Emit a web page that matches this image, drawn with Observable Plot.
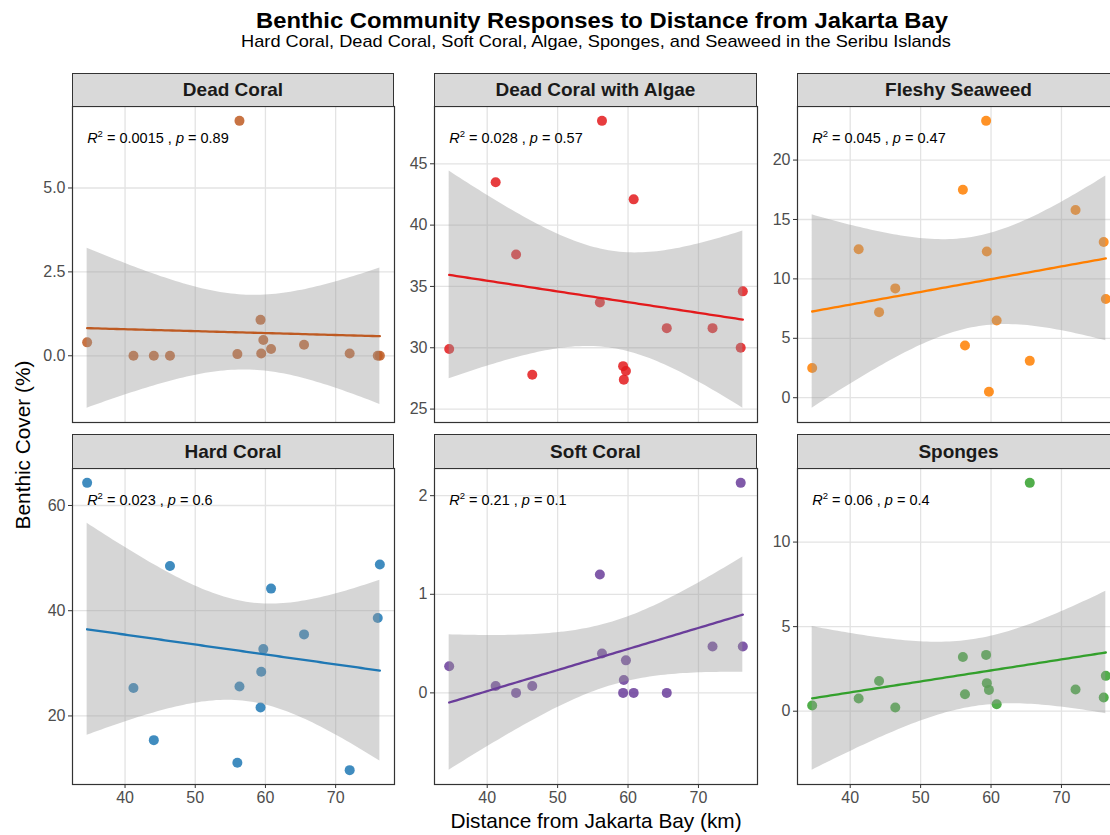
<!DOCTYPE html>
<html>
<head>
<meta charset="utf-8">
<script src="https://cdn.jsdelivr.net/npm/d3@7"></script>
<script src="https://cdn.jsdelivr.net/npm/@observablehq/plot@0.6"></script>
<style>
  body { margin: 0; background: #fff; font-family: "Liberation Sans", Arial, Helvetica, sans-serif; }
  #fig { position: relative; width: 1110px; height: 835px; overflow: hidden; background: #fff; }
  .abs { position: absolute; white-space: nowrap; line-height: 1; }
  .title { font-size: 22px; font-weight: bold; color: #000; text-align: center; transform: scaleX(1.08); transform-origin: 50% 50%; }
  .subtitle { font-size: 17px; color: #000; text-align: center; transform: scaleX(1.07); transform-origin: 50% 50%; }
  .strip { position: absolute; box-sizing: border-box; background: #D9D9D9; border: 1.2px solid #333;
           font-weight: bold; font-size: 19px; color: #1A1A1A; text-align: center; display: flex;
           align-items: center; justify-content: center; }
  .axtitle { font-size: 20.8px; color: #000; }
</style>
</head>
<body>
<div id="fig"></div>
<script>
// ---------------- data ----------------
const chartTitle = "Benthic Community Responses to Distance from Jakarta Bay";
const chartSubtitle = "Hard Coral, Dead Coral, Soft Coral, Algae, Sponges, and Seaweed in the Seribu Islands";
const xTitle = "Distance from Jakarta Bay (km)";
const yTitle = "Benthic Cover (%)";

const categories = ["Dead Coral", "Dead Coral with Algae", "Fleshy Seaweed", "Hard Coral", "Soft Coral", "Sponges"];
const distanceKm = [34.6, 41.2, 44.1, 46.4, 56.0, 56.3, 59.3, 59.4, 59.7, 60.8, 65.5, 72.0, 76.0, 76.3];

const deadCoral        = [0.40, 0.00, 0.00, 0.00, 0.05, 7.00, 1.07, 0.07, 0.47, 0.20, 0.33, 0.07, 0.00, 0.00];
const deadCoralAlgae   = [29.9, 43.5, 37.6, 27.8, 33.7, 48.5, 28.5, 27.4, 28.1, 42.1, 31.6, 31.6, 30.0, 34.6];
const fleshySeaweed    = [2.5, 12.5, 7.2, 9.2, 17.5, 4.4, 23.3, 12.3, 0.5, 6.5, 3.1, 15.8, 13.1, 8.3];
const hardCoral        = [64.3, 25.3, 15.4, 48.5, 11.1, 25.6, 21.6, 28.4, 32.7, 44.2, 35.5, 9.7, 38.6, 48.8];
const softCoral        = [0.27, 0.07, 0.00, 0.07, 1.20, 0.40, 0.00, 0.13, 0.33, 0.00, 0.00, 0.47, 2.13, 0.47];
const sponges          = [0.34, 0.75, 1.79, 0.22, 3.21, 1.00, 3.33, 1.66, 1.26, 0.41, 13.5, 1.28, 0.81, 2.09];

const r2Labels = ["0.0015", "0.028", "0.045", "0.023", "0.21", "0.06"];
const pLabels  = ["0.89", "0.57", "0.47", "0.6", "0.1", "0.4"];

const xTicks = [40, 50, 60, 70];
const yTicksDeadCoral = [0, 2.5, 5.0];
const yTicksDeadCoralAlgae = [25, 30, 35, 40, 45];
const yTicksFleshySeaweed = [0, 5, 10, 15, 20];
const yTicksHardCoral = [20, 40, 60];
const yTicksSoftCoral = [0, 1, 2];
const yTicksSponges = [0, 5, 10];

const colors = ["#BE5A22", "#E31A1C", "#FF7F00", "#1F78B4", "#6A3D9A", "#33A02C"];

// ---------------- helpers ----------------
const seriesList = [deadCoral, deadCoralAlgae, fleshySeaweed, hardCoral, softCoral, sponges];
const tickList = [yTicksDeadCoral, yTicksDeadCoralAlgae, yTicksFleshySeaweed, yTicksHardCoral, yTicksSoftCoral, yTicksSponges];

function lmBand(xs, ys) {
  const n = xs.length;
  const mx = d3.mean(xs), my = d3.mean(ys);
  let sxx = 0, sxy = 0;
  xs.forEach((x, i) => { sxx += (x - mx) ** 2; sxy += (x - mx) * (ys[i] - my); });
  const b = sxy / sxx, a = my - b * mx;
  const sse = d3.sum(xs, (x, i) => (ys[i] - a - b * x) ** 2);
  const s = Math.sqrt(sse / (n - 2));
  const t = 2.178813; // t(0.975, df = 12)
  const [x0, x1] = d3.extent(xs);
  return d3.range(80).map(i => {
    const x = x0 + (x1 - x0) * i / 79;
    const yh = a + b * x;
    const se = s * Math.sqrt(1 / n + (x - mx) ** 2 / sxx);
    return { x, y: yh, lo: yh - t * se, hi: yh + t * se };
  });
}

const fig = document.getElementById("fig");
function addDiv(cls, text, style) {
  const d = document.createElement("div");
  d.className = cls;
  d.textContent = text;
  Object.assign(d.style, style);
  fig.appendChild(d);
  return d;
}

addDiv("abs title", chartTitle, { left: "0px", width: "1204px", top: "9.5px" });
addDiv("abs subtitle", chartSubtitle, { left: "0px", width: "1192px", top: "32.5px" });
addDiv("abs axtitle", xTitle, { left: "0px", width: "1192px", textAlign: "center", top: "811px" });
const yt = addDiv("abs axtitle", yTitle, { left: "23px", top: "445px" });
yt.style.transform = "translate(-50%, -50%) rotate(-90deg)";

const colLeft = [72, 434, 797];
const colWidth = [322, 323, 323];
const rowStripTop = [73, 434];
const rowBodyTop = [106, 468];
const bodyH = 316;

const xExt = d3.extent(distanceKm);
const xPad = (xExt[1] - xExt[0]) * 0.05;
const xDomain = [xExt[0] - xPad, xExt[1] + xPad];

categories.forEach((cat, k) => {
  const row = Math.floor(k / 3), col = k % 3;
  const ys = seriesList[k];
  const pts = distanceKm.map((x, i) => ({ x, y: ys[i] }));
  const band = lmBand(distanceKm, ys);
  const lo = Math.min(d3.min(ys), d3.min(band, d => d.lo));
  const hi = Math.max(d3.max(ys), d3.max(band, d => d.hi));
  const yPad = (hi - lo) * 0.05;
  const yDomain = [lo - yPad, hi + yPad];
  const ml = 60, mr = 2, mt = 2, mb = row === 1 ? 40 : 2;
  const W = colWidth[col];
  const fmt = k === 0 ? (d => d.toFixed(1)) : (d => String(d));

  const label = { x: xExt[0], y: d3.max(ys), text: "R2=" + r2Labels[k] + "|" + pLabels[k] };

  const marks = [
    Plot.gridX(xTicks, { stroke: "#E3E3E3", strokeOpacity: 1, strokeWidth: 1.3 }),
    Plot.gridY(tickList[k], { stroke: "#E3E3E3", strokeOpacity: 1, strokeWidth: 1.3 }),
    Plot.dot(pts, { x: "x", y: "y", r: 5, fill: colors[k], fillOpacity: 0.85, stroke: null }),
    Plot.areaY(band, { x: "x", y1: "lo", y2: "hi", fill: "#999999", fillOpacity: 0.4 }),
    Plot.line(band, { x: "x", y: "y", stroke: colors[k], strokeWidth: 2.3 }),
    Plot.axisY(tickList[k], { tickSize: 4, tickPadding: 3, stroke: "#333", tickFormat: fmt, label: null, fontSize: 16 }),
    Plot.text([label], { x: "x", y: "y", text: "text", textAnchor: "start", dy: 17, fontSize: 14.5, fill: "#000" }),
    Plot.frame({ stroke: "#333", strokeWidth: 1.2 })
  ];
  if (row === 1) {
    marks.push(Plot.axisX(xTicks, { tickSize: 4, tickPadding: 3, stroke: "#333", label: null, fontSize: 16 }));
  }

  const svg = Plot.plot({
    width: W + ml + mr,
    height: bodyH + mt + mb,
    marginLeft: ml, marginRight: mr, marginTop: mt, marginBottom: mb,
    x: row === 1 ? { domain: xDomain } : { domain: xDomain, axis: null },
    y: { domain: yDomain },
    style: { fontFamily: '"Liberation Sans", Arial, Helvetica, sans-serif', fontSize: "16px", color: "#4D4D4D", background: "transparent", overflow: "visible" },
    marks
  });
  svg.style.position = "absolute";
  svg.style.left = (colLeft[col] - ml) + "px";
  svg.style.top = (rowBodyTop[row] - mt) + "px";
  fig.appendChild(svg);

  // rich text for R^2 / p labels
  svg.querySelectorAll("text").forEach(t => {
    const s = t.textContent;
    if (s.startsWith("R2=")) {
      const [r2, p] = s.slice(3).split("|");
      while (t.firstChild) t.removeChild(t.firstChild);
      const NS = "http://www.w3.org/2000/svg";
      const parts = [
        ["R", { "font-style": "italic" }],
        ["2", { "font-size": "9.5", "dy": "-6" }],
        [" = " + r2 + " , ", { "dy": "6" }],
        ["p", { "font-style": "italic" }],
        [" = " + p, {}]
      ];
      parts.forEach(([txt, attrs]) => {
        const ts = document.createElementNS(NS, "tspan");
        ts.textContent = txt;
        for (const a in attrs) ts.setAttribute(a, attrs[a]);
        t.appendChild(ts);
      });
    }
  });

  const strip = document.createElement("div");
  strip.className = "strip";
  strip.textContent = cat;
  Object.assign(strip.style, {
    left: colLeft[col] + "px", top: rowStripTop[row] + "px",
    width: W + "px", height: (rowBodyTop[row] - rowStripTop[row] + 1) + "px"
  });
  fig.appendChild(strip);
});
</script>
</body>
</html>
